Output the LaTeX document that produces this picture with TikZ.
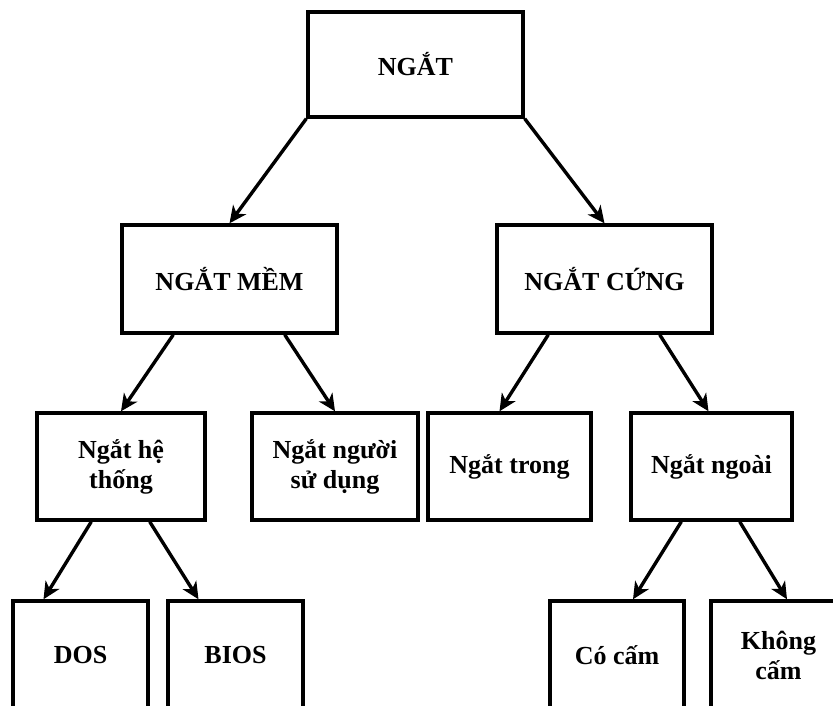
\documentclass[tikz,border=0pt]{standalone}
\usepackage{fontspec}
\setmainfont{Liberation Serif}
\usetikzlibrary{arrows.meta}
\tikzset{
  box/.style={draw=black, line width=3.4pt, rectangle, inner sep=0pt, align=center,
    font=\fontsize{26}{30}\selectfont\bfseries, minimum height=107pt},
  arr/.style={line width=3.4pt, -{Stealth[length=17pt,width=16pt,inset=5pt]}}
}
\begin{document}
\begin{tikzpicture}[x=1pt,y=-1pt]
\useasboundingbox (0,0) rectangle (833,706);
\clip (0,0) rectangle (833,706);
\node[box, minimum width=215pt, minimum height=105pt] (root) at (415.5,64.5) {NGẮT};
\node[box, minimum width=215pt, minimum height=108pt] (mem) at (229.5,279) {NGẮT MỀM};
\node[box, minimum width=215pt, minimum height=108pt] (cung) at (604.5,279) {NGẮT CỨNG};
\node[box, minimum width=168pt] (ht) at (121,466.5) {Ngắt hệ\\thống};
\node[box, minimum width=166pt] (nd) at (335,466.5) {Ngắt người\\sử dụng};
\node[box, minimum width=163pt] (trong) at (509.5,466.5) {Ngắt trong};
\node[box, minimum width=161pt] (ngoai) at (711.5,466.5) {Ngắt ngoài};
\node[box, minimum width=135pt, minimum height=108pt] (dos) at (80.5,655) {DOS};
\node[box, minimum width=135pt, minimum height=108pt] (bios) at (235.5,655) {BIOS};
\node[box, minimum width=134pt, minimum height=108pt] (cocam) at (617,655) {Có cấm};
\node[box, minimum width=135pt, minimum height=108pt] (khong) at (778.5,655) {Không\\cấm};
\draw[arr] (root.south west) -- (mem.north);
\draw[arr] (root.south east) -- (cung.north);
\draw[arr] ([xshift=53]mem.south west) -- (ht.north);
\draw[arr] ([xshift=-54]mem.south east) -- (nd.north);
\draw[arr] ([xshift=53]cung.south west) -- ([xshift=-10]trong.north);
\draw[arr] ([xshift=-54]cung.south east) -- ([xshift=-3]ngoai.north);
\draw[arr] ([xshift=56]ht.south west) -- ([xshift=-37]dos.north);
\draw[arr] ([xshift=-57]ht.south east) -- ([xshift=-37]bios.north);
\draw[arr] ([xshift=52]ngoai.south west) -- ([xshift=16]cocam.north);
\draw[arr] ([xshift=-54]ngoai.south east) -- ([xshift=8.5]khong.north);
\end{tikzpicture}
\end{document}
